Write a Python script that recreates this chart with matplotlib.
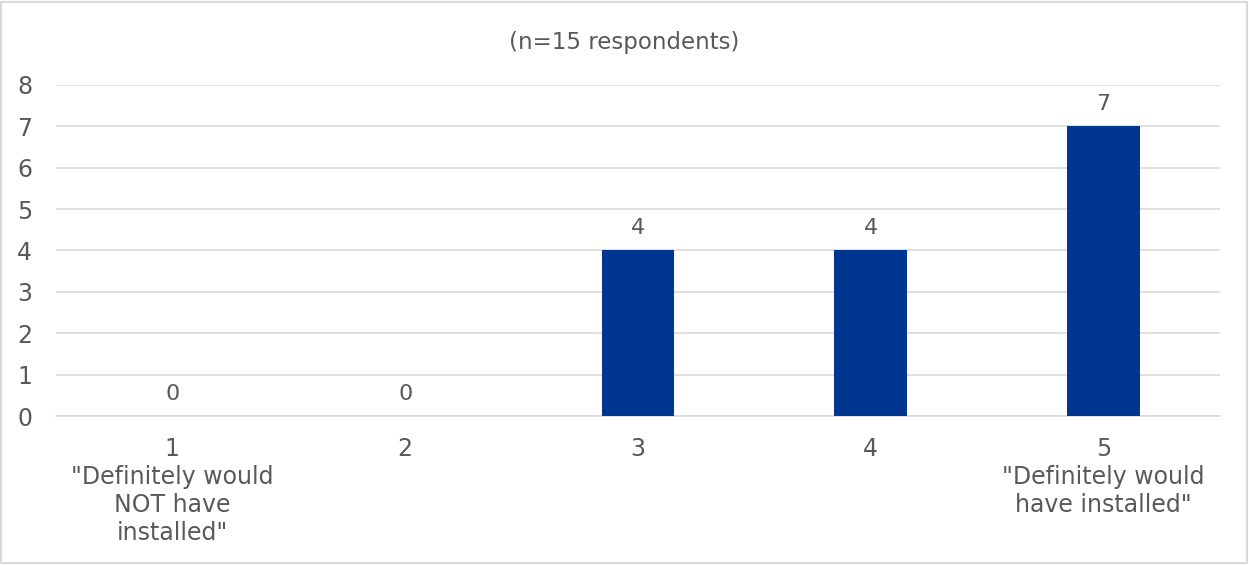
import matplotlib.pyplot as plt
from matplotlib.patches import Rectangle

categories = [1, 2, 3, 4, 5]
tick_labels = ['1\n"Definitely would\nNOT have\ninstalled"', '2', '3', '4',
               '5\n"Definitely would\nhave installed"']
counts = [0, 0, 4, 4, 7]
title = '(n=15 respondents)'

text_col = '#595959'
grid_col = '#d9d9d9'
bar_col = '#003591'

plt.rcParams['font.family'] = 'DejaVu Sans'

fig = plt.figure(figsize=(12.49, 5.65), dpi=100)
ax = fig.add_axes([0.0448, 0.2637, 0.932, 0.5859])

bars = ax.bar(categories, counts, width=0.313, color=bar_col, zorder=3)
for rect, v in zip(bars, counts):
    ax.text(rect.get_x() + rect.get_width() / 2, v + 0.3, str(v),
            ha='center', va='bottom', fontsize=16, color=text_col)

ax.set_xlim(0.5, 5.5)
ax.set_ylim(0, 8)
ax.set_yticks(range(0, 9))
ax.set_xticks(categories)
ax.set_xticklabels(tick_labels, linespacing=1.22)
ax.tick_params(axis='both', length=0, labelsize=17, labelcolor=text_col)
ax.tick_params(axis='x', pad=15)
ax.tick_params(axis='y', pad=28)
for lbl in ax.get_yticklabels():
    lbl.set_horizontalalignment('left')
ax.grid(axis='y', color=grid_col, linewidth=1.2, zorder=0)
for side in ['top', 'right', 'left']:
    ax.spines[side].set_visible(False)
ax.spines['bottom'].set_color(grid_col)
ax.spines['bottom'].set_linewidth(1.2)

fig.text(0.4996, 0.925, title, ha='center', va='center', fontsize=16.5, color=text_col)

# light border around the chart area
fig.patches.append(Rectangle((0.001, 0.003), 0.997, 0.994, transform=fig.transFigure,
                             fill=False, edgecolor=grid_col, linewidth=1.5))

fig.savefig('out.png', dpi=100)
